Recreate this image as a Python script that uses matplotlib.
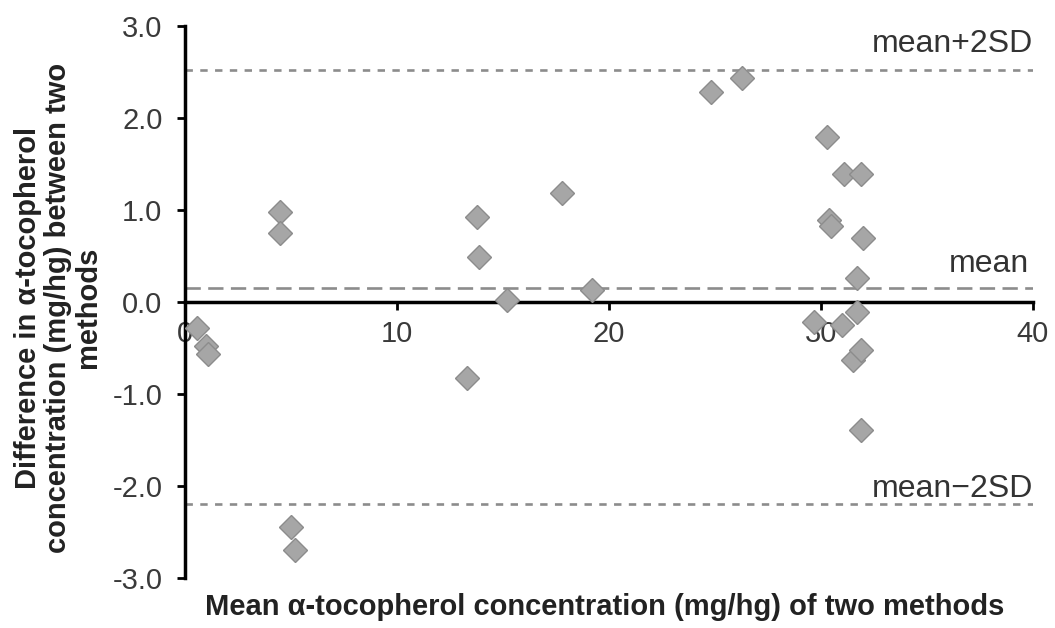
import matplotlib
matplotlib.use("Agg")
import matplotlib.pyplot as plt

# mean of two methods (x) and difference between methods (y)
mean_conc = [0.6, 1.0, 1.1, 4.5, 4.5, 5.0, 5.2, 13.3, 13.8, 13.9, 15.2,
             17.8, 19.2, 24.8, 26.3, 29.7, 30.3, 30.4, 30.5, 31.0, 31.1,
             31.5, 31.7, 31.7, 31.9, 31.9, 31.9, 32.0]
diff_conc = [-0.28, -0.48, -0.57, 0.98, 0.75, -2.45, -2.70, -0.83, 0.92,
             0.49, 0.02, 1.18, 0.13, 2.28, 2.44, -0.22, 1.79, 0.89, 0.83,
             -0.25, 1.39, -0.63, 0.26, -0.11, 1.39, -0.52, -1.39, 0.70]

mean_line = 0.15
upper_line = 2.52
lower_line = -2.2

xticks = [10, 20, 30, 40]
yticks = [-3.0, -2.0, -1.0, 0.0, 1.0, 2.0, 3.0]

plt.rcParams["font.family"] = ["Liberation Sans", "DejaVu Sans"]

fig = plt.figure(figsize=(10.55, 6.28), dpi=100)
ax = fig.add_axes([0.175, 0.0796, 0.804, 0.879])

# limits of agreement and mean difference
ax.axhline(upper_line, color="#8c8c8c", lw=1.9, ls=(0, (2.8, 2.8)), zorder=1)
ax.axhline(lower_line, color="#8c8c8c", lw=1.9, ls=(0, (2.8, 2.8)), zorder=1)
ax.axhline(mean_line, color="#8c8c8c", lw=1.9, ls=(0, (5.8, 2.8)), zorder=1)

ax.plot(mean_conc, diff_conc, ls="none", marker="D", ms=12.5,
        mfc="#a6a6a6", mec="#8c8c8c", mew=1, zorder=3)

ax.set_xlim(0, 40)
ax.set_ylim(-3, 3)

# x-axis sits on y = 0
ax.spines["bottom"].set_position(("data", 0))
ax.spines["bottom"].set_linewidth(2.5)
ax.spines["left"].set_linewidth(2.5)
ax.spines["top"].set_visible(False)
ax.spines["right"].set_visible(False)

ax.set_xticks([0] + xticks)
ax.set_xticklabels(["0"] + [str(t) for t in xticks])
ax.set_yticks(yticks)
ax.set_yticklabels(["%.1f" % t for t in yticks])
ax.tick_params(axis="both", labelsize=21, labelcolor="#3a3a3a", width=2,
               length=6, direction="out")
ax.tick_params(axis="x", pad=7)
ax.tick_params(axis="y", pad=10)

trans = ax.get_yaxis_transform()
ax.text(1.0, 2.72, "mean+2SD", fontsize=23, color="#333333",
        ha="right", va="baseline", transform=trans)
ax.text(0.995, 0.33, "mean", fontsize=23, color="#333333",
        ha="right", va="baseline", transform=trans)
ax.text(1.0, -2.12, "mean\u22122SD", fontsize=23, color="#333333",
        ha="right", va="baseline", transform=trans)

fig.text(0.573, 0.033, "Mean \u03b1-tocopherol concentration (mg/hg) of two methods",
         fontsize=21, fontweight="bold", ha="center", va="center",
         color="#222222")
fig.text(0.055, 0.51, "Difference in \u03b1-tocopherol\nconcentration (mg/hg) between two\nmethods",
         fontsize=21, fontweight="bold", ha="center", va="center",
         rotation=90, color="#222222", linespacing=1.1)

fig.savefig("out.png", dpi=100)
